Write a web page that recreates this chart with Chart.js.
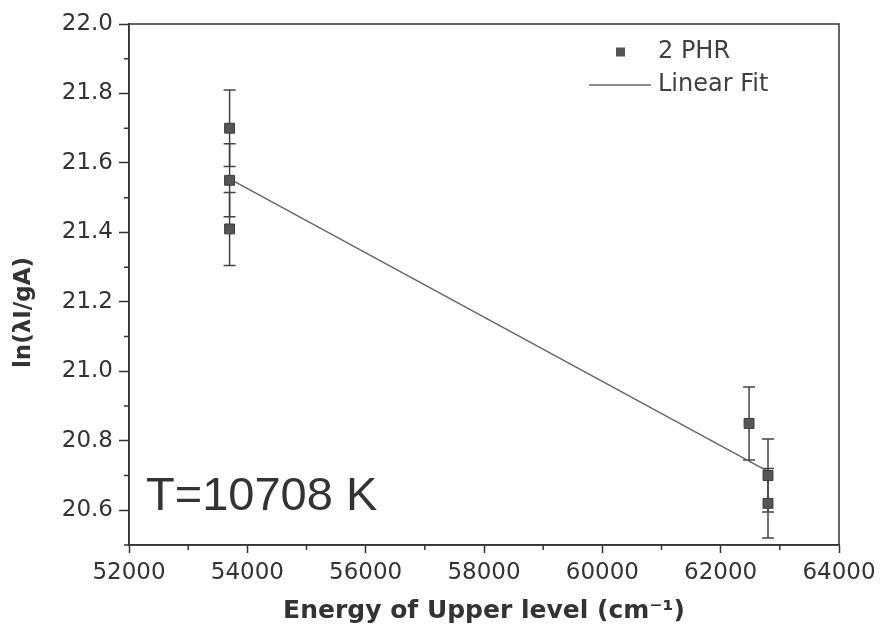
<!DOCTYPE html>
<html>
<head>
<meta charset="utf-8">
<script src="https://cdn.jsdelivr.net/npm/chart.js@4.4.1/dist/chart.umd.min.js"></script>
<style>
  html, body { margin: 0; padding: 0; background: #ffffff; }
  #wrap { position: relative; width: 882px; height: 633px; }
</style>
</head>
<body>
<div id="wrap"><canvas id="c" width="882" height="633"></canvas></div>
<script>
// ---- data ----
const energy   = [53700, 53700, 53700, 62480, 62800, 62800];   // cm^-1
const lnValues = [21.70, 21.55, 21.41, 20.85, 20.70, 20.62];    // ln(λI/gA)
const errors   = [0.11, 0.105, 0.105, 0.105, 0.105, 0.10];
const fitX     = [53700, 62800];
const fitY     = [21.554, 20.712];

const xTicks = [52000, 54000, 56000, 58000, 60000, 62000, 64000];
const xMinorTicks = [53000, 55000, 57000, 59000, 61000, 63000];
const yTicks = [20.6, 20.8, 21.0, 21.2, 21.4, 21.6, 21.8, 22.0];
const yMinorTicks = [20.5, 20.7, 20.9, 21.1, 21.3, 21.5, 21.7, 21.9];

const seriesLabel = '2 PHR';
const fitLabel = 'Linear Fit';
const annotationText = 'T=10708 K';
const xTitle = 'Energy of Upper level (cm\u207B\u00B9)';
const yTitle = 'ln(\u03BBI/gA)';

const axisColor = '#333333';
const textColor = '#333333';

const points = energy.map((x, i) => ({ x: x, y: lnValues[i] }));
const fitLine = fitX.map((x, i) => ({ x: x, y: fitY[i] }));

const frameAndExtras = {
  id: 'frameAndExtras',
  beforeDatasetsDraw(chart) {
    const { ctx, chartArea: a, scales: { x, y } } = chart;
    ctx.save();
    // frame
    ctx.strokeStyle = axisColor;
    ctx.lineWidth = 1.5;
    ctx.strokeRect(a.left, a.top, a.right - a.left, a.bottom - a.top);
    // error bars
    ctx.strokeStyle = '#444444';
    ctx.lineWidth = 1.5;
    energy.forEach((e, i) => {
      const px = x.getPixelForValue(e);
      const y1 = y.getPixelForValue(lnValues[i] + errors[i]);
      const y2 = y.getPixelForValue(lnValues[i] - errors[i]);
      ctx.beginPath();
      ctx.moveTo(px, y1); ctx.lineTo(px, y2);
      ctx.moveTo(px - 6, y1); ctx.lineTo(px + 6, y1);
      ctx.moveTo(px - 6, y2); ctx.lineTo(px + 6, y2);
      ctx.stroke();
    });
    ctx.restore();
  },
  afterDraw(chart) {
    const { ctx, chartArea: a, scales: { x, y } } = chart;
    ctx.save();
    // minor ticks
    ctx.strokeStyle = axisColor;
    ctx.lineWidth = 1.5;
    ctx.beginPath();
    xMinorTicks.forEach(v => {
      const px = x.getPixelForValue(v);
      ctx.moveTo(px, a.bottom); ctx.lineTo(px, a.bottom + 5);
    });
    yMinorTicks.forEach(v => {
      const py = y.getPixelForValue(v);
      ctx.moveTo(a.left, py); ctx.lineTo(a.left - 5, py);
    });
    ctx.stroke();
    // annotation
    ctx.fillStyle = textColor;
    ctx.font = '47px "Liberation Sans", Arial, sans-serif';
    ctx.textBaseline = 'alphabetic';
    ctx.textAlign = 'left';
    ctx.fillText(annotationText, a.left + 17, a.bottom - 35);
    // legend
    const lx = a.right - 250;
    const r1 = a.top + 28, r2 = a.top + 61;
    ctx.fillStyle = '#555555';
    ctx.fillRect(lx + 27, r1 - 4.5, 9, 9);
    ctx.strokeStyle = '#666666';
    ctx.lineWidth = 1.5;
    ctx.beginPath();
    ctx.moveTo(lx, r2); ctx.lineTo(lx + 62, r2);
    ctx.stroke();
    ctx.fillStyle = '#404040';
    ctx.font = '24px "DejaVu Sans", sans-serif';
    ctx.textBaseline = 'middle';
    ctx.fillText(seriesLabel, lx + 69, r1);
    ctx.fillText(fitLabel, lx + 69, r2);
    ctx.restore();
  }
};

new Chart(document.getElementById('c'), {
  type: 'scatter',
  data: {
    datasets: [
      {
        label: seriesLabel,
        data: points,
        pointStyle: 'rect',
        pointRadius: 7,
        pointHoverRadius: 7,
        backgroundColor: '#555555',
        borderColor: '#3a3a3a',
        borderWidth: 1,
        order: 1
      },
      {
        label: fitLabel,
        data: fitLine,
        showLine: true,
        pointRadius: 0,
        borderColor: '#666666',
        borderWidth: 1.5,
        fill: false,
        order: 2
      }
    ]
  },
  options: {
    responsive: false,
    animation: false,
    layout: { padding: { left: 0, top: 24, right: 43, bottom: 0 } },
    plugins: { legend: { display: false }, tooltip: { enabled: false } },
    scales: {
      x: {
        type: 'linear',
        min: 52000, max: 64000,
        afterBuildTicks: s => { s.ticks = xTicks.map(v => ({ value: v })); },
        afterFit: s => { s.height = 633 - 545; },
        ticks: {
          callback: v => String(v),
          color: textColor,
          font: { family: 'DejaVu Sans', size: 23 },
          padding: 6,
          maxRotation: 0,
          autoSkip: false
        },
        grid: { drawOnChartArea: false, tickLength: 8, color: axisColor, tickWidth: 1.5 },
        border: { color: axisColor, width: 1.5 },
        title: {
          display: true,
          text: xTitle,
          color: textColor,
          font: { family: 'DejaVu Sans', size: 25, weight: 'bold' },
          padding: { top: 0, bottom: 7 }
        }
      },
      y: {
        type: 'linear',
        min: 20.5, max: 22.0,
        afterBuildTicks: s => { s.ticks = yTicks.map(v => ({ value: v })); },
        afterFit: s => { s.width = 129; },
        ticks: {
          callback: v => Number(v).toFixed(1),
          color: textColor,
          font: { family: 'DejaVu Sans', size: 23 },
          padding: 6,
          autoSkip: false
        },
        grid: { drawOnChartArea: false, tickLength: 10, color: axisColor, tickWidth: 1.5 },
        border: { color: axisColor, width: 1.5 },
        title: {
          display: true,
          text: yTitle + '\u00A0'.repeat(7),
          color: textColor,
          font: { family: 'DejaVu Sans', size: 23, weight: 'bold' },
          padding: { top: 10, bottom: 0 }
        }
      }
    }
  },
  plugins: [frameAndExtras]
});
</script>
</body>
</html>
